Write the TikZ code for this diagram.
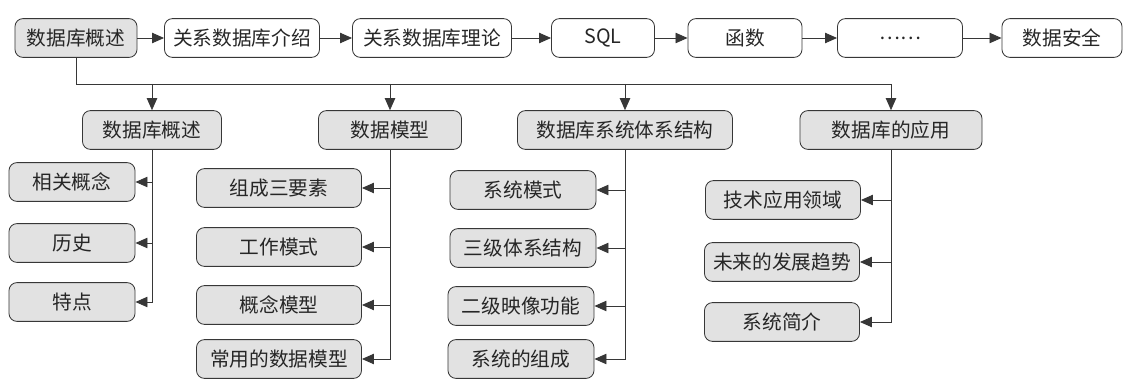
\documentclass[tikz,border=0pt]{standalone}
\usepackage{fontspec}
\setmainfont{Noto Sans CJK SC}
\usetikzlibrary{arrows.meta}
\definecolor{boxgray}{RGB}{226,226,226}
\definecolor{linegray}{RGB}{55,55,55}

\begin{document}
\begin{tikzpicture}[x=0.025cm, y=-0.025cm,
  box/.style={draw=linegray, line width=0.6pt, rounded corners=0.2cm,
              minimum height=0.97cm, inner sep=0pt, text=black!85,
              font=\fontsize{14}{16}\selectfont},
  topbox/.style={box, fill=white},
  graybox/.style={box, fill=boxgray},
  wire/.style={draw=linegray, line width=0.6pt},
  link/.style={wire, -{Triangle[length=0.3cm, width=0.26cm]}}]
  \useasboundingbox (0,0) rectangle (1125,380);

  % Top row
  \node[graybox, minimum width=3.05cm]  (ov)  at (76,38)   {数据库概述};
  \node[topbox, minimum width=3.875cm]  (gx)  at (242,38)  {关系数据库介绍};
  \node[topbox, minimum width=3.975cm]  (ll)  at (432,38)  {关系数据库理论};
  \node[topbox, minimum width=2.575cm]  (sql) at (603,38)  {SQL};
  \node[topbox, minimum width=2.85cm]   (hs)  at (745,38)  {函数};
  \node[topbox, minimum width=3.125cm]  (etc) at (900,38)  {……};
  \node[topbox, minimum width=3.0cm]    (aq)  at (1062,38) {数据安全};

  \draw[link] (ov) -- (gx);
  \draw[link] (gx) -- (ll);
  \draw[link] (ll) -- (sql);
  \draw[link] (sql) -- (hs);
  \draw[link] (hs) -- (etc);
  \draw[link] (etc) -- (aq);

  % Second level
  \node[graybox, minimum width=3.475cm] (s1) at (152,130) {数据库概述};
  \node[graybox, minimum width=3.575cm] (s2) at (390,130) {数据模型};
  \node[graybox, minimum width=5.375cm] (s3) at (625,130) {数据库系统体系结构};
  \node[graybox, minimum width=4.55cm]  (s4) at (891,130) {数据库的应用};

  \coordinate (trunk) at (0,84);
  \draw[wire] (ov.south) |- (s4.north |- trunk);
  \foreach \s in {s1,s2,s3,s4}
    \draw[link] (\s.north |- trunk) -- (\s.north);

  % Leaves
  \node[graybox, minimum width=3.15cm] (a1) at (72,182) {相关概念};
  \node[graybox, minimum width=3.15cm] (a2) at (72,243) {历史};
  \node[graybox, minimum width=3.15cm] (a3) at (72,302) {特点};

  \node[graybox, minimum width=4.125cm] (b1) at (279,188) {组成三要素};
  \node[graybox, minimum width=4.125cm] (b2) at (279,247) {工作模式};
  \node[graybox, minimum width=4.125cm] (b3) at (279,305) {概念模型};
  \node[graybox, minimum width=4.125cm] (b4) at (279,359) {常用的数据模型};

  \node[graybox, minimum width=3.65cm] (c1) at (523,190) {系统模式};
  \node[graybox, minimum width=3.65cm] (c2) at (523,248) {三级体系结构};
  \node[graybox, minimum width=3.65cm] (c3) at (521,306) {二级映像功能};
  \node[graybox, minimum width=3.65cm] (c4) at (521,359) {系统的组成};

  \node[graybox, minimum width=3.875cm] (d1) at (783,200) {技术应用领域};
  \node[graybox, minimum width=3.875cm] (d2) at (782,262) {未来的发展趋势};
  \node[graybox, minimum width=3.875cm] (d3) at (782,322) {系统简介};

  % Branches
  \draw[link] (s1.south) |- (a3.east);
  \draw[link] (s1.south |- a1.east) -- (a1.east);
  \draw[link] (s1.south |- a2.east) -- (a2.east);

  \draw[link] (s2.south) |- (b4.east);
  \foreach \n in {b1,b2,b3}
    \draw[link] (s2.south |- \n.east) -- (\n.east);

  \draw[link] (s3.south) |- (c4.east);
  \foreach \n in {c1,c2,c3}
    \draw[link] (s3.south |- \n.east) -- (\n.east);

  \draw[link] (s4.south) |- (d3.east);
  \draw[link] (s4.south |- d1.east) -- (d1.east);
  \draw[link] (s4.south |- d2.east) -- (d2.east);
\end{tikzpicture}
\end{document}
